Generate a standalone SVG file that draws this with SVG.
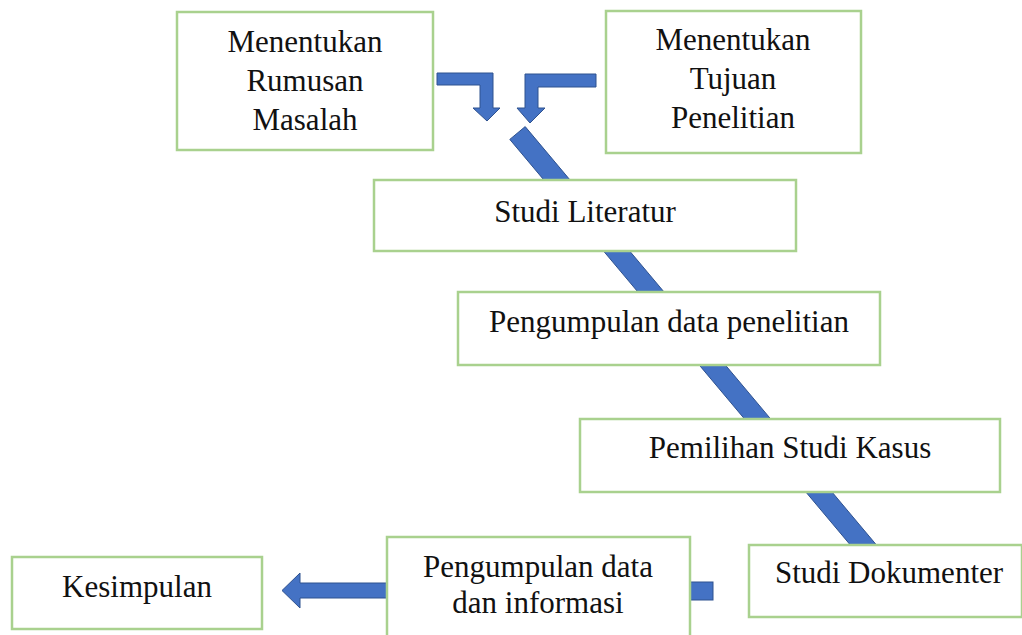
<svg xmlns="http://www.w3.org/2000/svg" width="1022" height="635" viewBox="0 0 1022 635">
<style>
.box{fill:#fff;stroke:#A9D18E;stroke-width:2.5}
.arr{fill:#4472C4;stroke:#2F528F;stroke-width:1}
text{font-family:"Liberation Serif","Times New Roman",serif;font-size:31px;fill:#111;text-anchor:middle}
</style>
<rect width="1022" height="635" fill="#fff"/>
<g id="connectors">
<polygon class="arr" points="509.8,139.4 525.2,126.6 883.7,553.6 868.3,566.4"/>
<polygon class="arr" points="437,73 493,73 493,108 500,108 487,121 473,108 480,108 480,85 437,85"/>
<polygon class="arr" points="596,74 596,87 538,87 538,108 545,108 530,123 517,108 525,108 525,74"/>
<polygon class="arr" points="388,583 300,583 300,573 282,590.5 300,608 300,598 388,598"/>
<rect class="arr" x="690" y="582" width="23" height="18"/>
</g>
<g id="n1"><rect class="box" x="177" y="12" width="256" height="138"/>
<text x="305" y="52">Menentukan</text><text x="305" y="91">Rumusan</text><text x="305" y="130">Masalah</text></g>
<g id="n2"><rect class="box" x="606" y="11" width="255" height="142"/>
<text x="733" y="50">Menentukan</text><text x="733" y="89">Tujuan</text><text x="733" y="128">Penelitian</text></g>
<g id="n3"><rect class="box" x="374" y="180" width="422" height="71"/>
<text x="585" y="222">Studi Literatur</text></g>
<g id="n4"><rect class="box" x="458" y="292" width="422" height="73"/>
<text x="669" y="332">Pengumpulan data penelitian</text></g>
<g id="n5"><rect class="box" x="580" y="419" width="420" height="73"/>
<text x="790" y="458">Pemilihan Studi Kasus</text></g>
<g id="n6"><rect class="box" x="749" y="545" width="273" height="72"/>
<text x="889" y="583">Studi Dokumenter</text></g>
<g id="n7"><rect class="box" x="387" y="537" width="303" height="110"/>
<text x="538" y="577">Pengumpulan data</text><text x="538" y="613">dan informasi</text></g>
<g id="n8"><rect class="box" x="12" y="557" width="250" height="72"/>
<text x="137" y="597">Kesimpulan</text></g>
</svg>
